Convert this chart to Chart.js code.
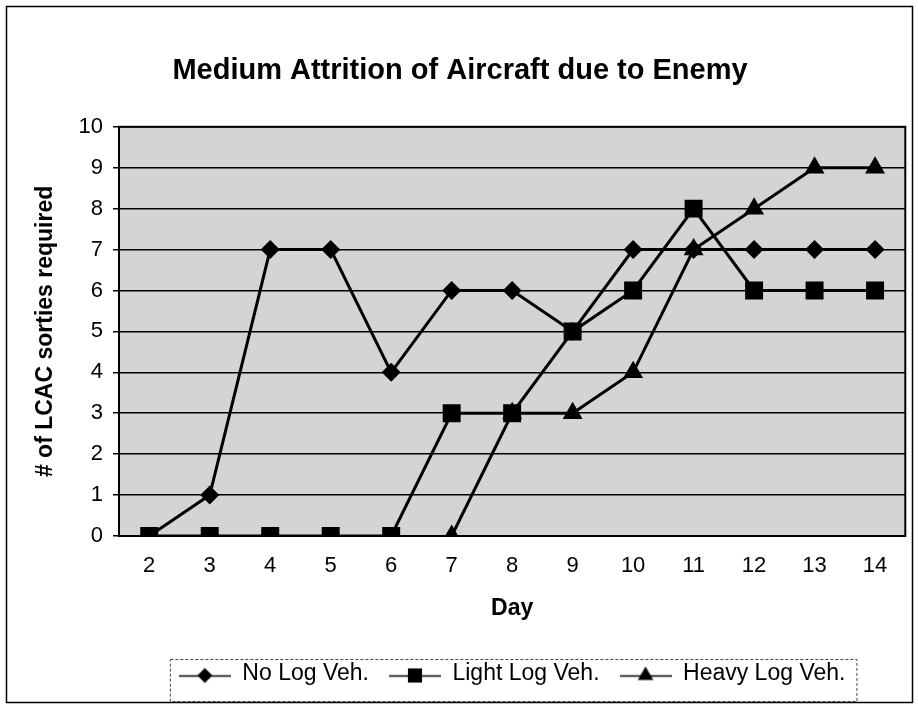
<!DOCTYPE html>
<html>
<head>
<meta charset="utf-8">
<title>Medium Attrition of Aircraft due to Enemy</title>
<script src="https://cdn.jsdelivr.net/npm/chart.js@4.4.1/dist/chart.umd.min.js"></script>
<style>
  html, body { margin: 0; padding: 0; background: #fff; }
  #wrap { width: 918px; height: 705px; }
</style>
</head>
<body>
<div id="wrap"><canvas id="chart" width="918" height="705"></canvas></div>
<script>
(function() {
	'use strict';

	// data
	const days = ['2', '3', '4', '5', '6', '7', '8', '9', '10', '11', '12', '13', '14'];
	const noLogVeh = [0, 1, 7, 7, 4, 6, 6, 5, 7, 7, 7, 7, 7];
	const lightLogVeh = [0, 0, 0, 0, 0, 3, 3, 5, 6, 8, 6, 6, 6];
	const heavyLogVeh = [null, null, null, null, null, 0, 3, 3, 4, 7, 8, 9, 9];
	const seriesNames = ['No Log Veh.', 'Light Log Veh.', 'Heavy Log Veh.'];
	const yTicks = [0, 1, 2, 3, 4, 5, 6, 7, 8, 9, 10];

	const FONT = 'Arial, "Liberation Sans", sans-serif';
	const plotFill = '#d4d4d4';

	// small line+marker icons for the legend
	function legendIcon(style, radius) {
		const c = document.createElement('canvas');
		c.width = 52; c.height = 26;
		const ctx = c.getContext('2d');
		ctx.strokeStyle = '#000';
		ctx.lineWidth = 1.5;
		ctx.beginPath();
		ctx.moveTo(0, 15.5);
		ctx.lineTo(52, 15.5);
		ctx.stroke();
		ctx.fillStyle = '#000';
		Chart.helpers.drawPoint(ctx, { pointStyle: style, radius: radius, rotation: 0, borderWidth: 0 }, 26, 15);
		return c;
	}

	const icons = [legendIcon('rectRot', 7.5), legendIcon('rect', 10), legendIcon('triangle', 9)];

	const decor = {
		id: 'decor',
		beforeDraw(chart) {
			const { ctx, chartArea: a } = chart;
			ctx.save();
			ctx.fillStyle = '#fff';
			ctx.fillRect(0, 0, chart.width, chart.height);
			ctx.fillStyle = plotFill;
			ctx.fillRect(a.left, a.top, a.right - a.left, a.bottom - a.top);
			ctx.strokeStyle = '#000';
			ctx.lineWidth = 1.5;
			ctx.strokeRect(6.5, 6.5, chart.width - 12, chart.height - 9);
			ctx.restore();
		},
		beforeDatasetsDraw(chart) {
			const { ctx, chartArea: a } = chart;
			ctx.save();
			ctx.strokeStyle = '#000';
			ctx.lineWidth = 2;
			ctx.strokeRect(a.left, a.top, a.right - a.left, a.bottom - a.top);
			ctx.restore();
		},
		afterDraw(chart) {
			const lg = chart.legend;
			if (!lg || !lg.legendHitBoxes || !lg.legendHitBoxes.length) return;
			const boxes = lg.legendHitBoxes;
			const first = boxes[0], last = boxes[boxes.length - 1];
			const cy = first.top + first.height / 2;
			const ctx = chart.ctx;
			ctx.save();
			ctx.strokeStyle = '#444';
			ctx.lineWidth = 1;
			ctx.setLineDash([3, 2]);
			ctx.strokeRect(first.left - 8.5, Math.round(cy - 15) + 0.5, last.left + last.width - first.left + 20, 42);
			ctx.restore();
		}
	};

	const lineStyle = {
		borderColor: '#000',
		backgroundColor: '#000',
		pointBackgroundColor: '#000',
		pointBorderColor: '#000',
		pointBorderWidth: 0,
		borderWidth: 3,
		tension: 0,
		fill: false,
		spanGaps: false
	};

	new Chart(document.getElementById('chart').getContext('2d'), {
		type: 'line',
		data: {
			labels: days,
			datasets: [
				Object.assign({ label: seriesNames[0], data: noLogVeh, pointStyle: 'rectRot', pointRadius: 9.5, pointHoverRadius: 9.5 }, lineStyle),
				Object.assign({ label: seriesNames[1], data: lightLogVeh, pointStyle: 'rect', pointRadius: 12.7, pointHoverRadius: 12.7 }, lineStyle),
				Object.assign({ label: seriesNames[2], data: heavyLogVeh, pointStyle: 'triangle', pointRadius: 11.5, pointHoverRadius: 11.5 }, lineStyle)
			]
		},
		options: {
			responsive: false,
			animation: false,
			events: [],
			layout: { padding: { left: 10, right: 8, top: 0, bottom: 10 } },
			plugins: {
				title: {
					display: true,
					text: 'Medium Attrition of Aircraft due to Enemy',
					color: '#000',
					font: { family: FONT, size: 29, weight: 'bold' },
					padding: { top: 54, bottom: 38 }
				},
				legend: {
					display: true,
					position: 'bottom',
					fullSize: false,
					labels: {
						color: '#000',
						font: { family: FONT, size: 23 },
						usePointStyle: true,
						pointStyleWidth: 52,
						padding: 20,
						generateLabels(chart) {
							const items = Chart.defaults.plugins.legend.labels.generateLabels(chart);
							items.forEach((it, i) => { it.pointStyle = icons[i]; });
							return items;
						}
					}
				},
				tooltip: { enabled: false }
			},
			scales: {
				x: {
					type: 'category',
					offset: true,
					grid: { display: false, drawTicks: false },
					border: { display: false },
					ticks: { color: '#000', font: { family: FONT, size: 22 }, padding: 17, maxRotation: 0, autoSkip: false },
					title: {
						display: true,
						text: 'Day',
						color: '#000',
						font: { family: FONT, size: 23, weight: 'bold' },
						padding: { top: 0, bottom: 20 }
					},
					afterFit(scale) { scale.height = 106; }
				},
				y: {
					min: 0,
					max: 10,
					afterBuildTicks(scale) { scale.ticks = yTicks.map(v => ({ value: v })); },
					grid: { color: '#000', lineWidth: 1.5, drawTicks: true, tickLength: 6, tickColor: '#000' },
					border: { display: false },
					ticks: { color: '#000', font: { family: FONT, size: 22 }, padding: 10 },
					title: {
						display: true,
						text: '# of LCAC sorties required',
						color: '#000',
						font: { family: FONT, size: 23, weight: 'bold' },
						padding: { top: 22, bottom: 0 }
					},
					afterFit(scale) { scale.width = 109; }
				}
			}
		},
		plugins: [decor]
	});
})();
</script>
</body>
</html>
